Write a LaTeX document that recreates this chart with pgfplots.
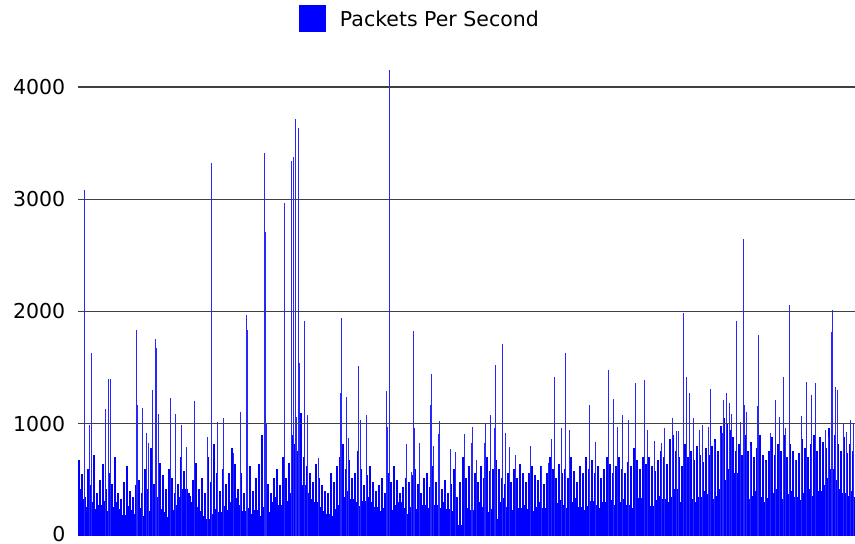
\documentclass[border=0pt]{standalone}
\usepackage{fontspec}
\setmainfont{DejaVu Sans}
\usepackage{pgfplots}
\pgfplotsset{compat=1.18}
\usepackage{pgfplotstable}

% dense floor of the series, one value every 4 px
\pgfplotstableread[row sep=\\,header=false]{
420\\ 330\\ 260\\ 300\\ 240\\ 280\\ 310\\ 220\\ 260\\ 300\\
240\\ 190\\ 270\\ 230\\ 200\\ 250\\ 180\\ 220\\ 260\\ 300\\
240\\ 210\\ 170\\ 230\\ 280\\ 350\\ 420\\ 380\\ 300\\ 260\\
220\\ 180\\ 150\\ 200\\ 240\\ 210\\ 270\\ 230\\ 300\\ 340\\
280\\ 220\\ 250\\ 200\\ 230\\ 180\\ 260\\ 210\\ 300\\ 350\\
280\\ 240\\ 310\\ 380\\ 420\\ 500\\ 450\\ 380\\ 330\\ 300\\
260\\ 220\\ 200\\ 180\\ 240\\ 280\\ 350\\ 400\\ 330\\ 300\\
270\\ 310\\ 350\\ 300\\ 260\\ 220\\ 250\\ 200\\ 230\\ 280\\
300\\ 250\\ 200\\ 260\\ 240\\ 300\\ 280\\ 250\\ 230\\ 280\\
250\\ 300\\ 240\\ 220\\ 120\\ 100\\ 200\\ 250\\ 230\\ 270\\
300\\ 260\\ 210\\ 240\\ 150\\ 300\\ 340\\ 260\\ 230\\ 200\\
250\\ 280\\ 240\\ 220\\ 260\\ 300\\ 250\\ 230\\ 270\\ 290\\
320\\ 280\\ 250\\ 300\\ 340\\ 260\\ 230\\ 270\\ 310\\ 280\\
250\\ 300\\ 350\\ 320\\ 280\\ 300\\ 330\\ 280\\ 250\\ 290\\
340\\ 380\\ 300\\ 270\\ 320\\ 360\\ 330\\ 300\\ 350\\ 420\\
300\\ 460\\ 380\\ 330\\ 300\\ 350\\ 400\\ 370\\ 330\\ 360\\
420\\ 500\\ 600\\ 650\\ 560\\ 450\\ 380\\ 330\\ 360\\ 400\\
350\\ 300\\ 340\\ 380\\ 420\\ 360\\ 330\\ 370\\ 400\\ 350\\
320\\ 380\\ 420\\ 360\\ 330\\ 400\\ 450\\ 520\\ 600\\ 500\\
420\\ 380\\ 360\\ 400\\ 350\\
}\floortab

% thinner sticks, one value every 3 px
\pgfplotstableread[row sep=\\,header=false]{
680\\ 550\\ 350\\ 600\\ 450\\ 720\\ 380\\ 500\\ 640\\ 420\\
560\\ 460\\ 700\\ 380\\ 330\\ 480\\ 620\\ 400\\ 350\\ 450\\
500\\ 380\\ 600\\ 420\\ 780\\ 460\\ 350\\ 650\\ 540\\ 420\\
600\\ 520\\ 380\\ 460\\ 700\\ 580\\ 420\\ 360\\ 500\\ 650\\
420\\ 520\\ 380\\ 700\\ 480\\ 820\\ 560\\ 400\\ 600\\ 460\\
560\\ 780\\ 640\\ 420\\ 560\\ 380\\ 480\\ 620\\ 400\\ 520\\
640\\ 900\\ 560\\ 460\\ 380\\ 520\\ 600\\ 450\\ 700\\ 520\\
650\\ 900\\ 820\\ 760\\ 1100\\ 700\\ 620\\ 560\\ 480\\ 640\\
520\\ 450\\ 400\\ 380\\ 560\\ 480\\ 620\\ 700\\ 820\\ 600\\
680\\ 520\\ 560\\ 760\\ 600\\ 450\\ 540\\ 620\\ 480\\ 400\\
450\\ 520\\ 380\\ 560\\ 480\\ 620\\ 500\\ 380\\ 440\\ 520\\
480\\ 540\\ 600\\ 460\\ 380\\ 520\\ 560\\ 440\\ 620\\ 480\\
560\\ 420\\ 500\\ 380\\ 460\\ 600\\ 350\\ 480\\ 700\\ 520\\
620\\ 680\\ 560\\ 480\\ 620\\ 520\\ 700\\ 580\\ 600\\ 680\\
600\\ 520\\ 460\\ 560\\ 480\\ 600\\ 520\\ 640\\ 560\\ 480\\
560\\ 620\\ 540\\ 500\\ 620\\ 460\\ 560\\ 700\\ 600\\ 520\\
640\\ 560\\ 600\\ 520\\ 700\\ 580\\ 480\\ 620\\ 560\\ 700\\
600\\ 680\\ 560\\ 620\\ 520\\ 600\\ 700\\ 640\\ 560\\ 620\\
700\\ 600\\ 560\\ 660\\ 620\\ 780\\ 680\\ 600\\ 700\\ 640\\
700\\ 620\\ 580\\ 680\\ 760\\ 700\\ 640\\ 860\\ 900\\ 760\\
700\\ 620\\ 820\\ 700\\ 760\\ 680\\ 800\\ 720\\ 660\\ 780\\
720\\ 800\\ 860\\ 760\\ 980\\ 1050\\ 1000\\ 940\\ 880\\ 760\\
820\\ 720\\ 900\\ 760\\ 840\\ 700\\ 780\\ 900\\ 720\\ 680\\
760\\ 880\\ 720\\ 820\\ 760\\ 900\\ 700\\ 820\\ 760\\ 680\\
740\\ 860\\ 780\\ 700\\ 820\\ 900\\ 760\\ 880\\ 840\\ 780\\
960\\ 1000\\ 900\\ 820\\ 760\\ 880\\ 740\\ 820\\ 760\\
}\midtab

\begin{document}
\begin{tikzpicture}
\useasboundingbox (-78pt,-8pt) rectangle (777pt,536pt);
\begin{axis}[
  scale only axis,
  width=777pt, height=477pt,
  xmin=78, xmax=855,
  ymin=0, ymax=4250,
  axis line style={draw=none},
  xtick=\empty,
  ytick={1000,2000,3000,4000},
  extra y ticks={0},
  extra y tick style={grid=none, yticklabel style={yshift=1.8pt}},
  ymajorgrids,
  grid style={black!75, line width=1.4pt},
  major tick length=0pt,
  axis on top,
  font=\fontsize{20.5}{24}\selectfont,
  /pgf/number format/assume math mode=true,
  /pgf/number format/set thousands separator={},
  yticklabel style={inner sep=0pt, xshift=-12.5pt},
  legend style={draw=none, fill=none, inner sep=0pt, outer sep=0pt,
    at={(rel axis cs:0.2844,1.0839)}, anchor=west,
    nodes={inner sep=0pt}},
  legend cell align=left,
  legend image code/.code={\fill[blue] (0pt,-11.5pt) rectangle (23pt,11.5pt); \path (37pt,0pt);},
]
\addplot[ycomb, draw=blue, line width=4pt, mark=none]
  table[x expr={80+4*\coordindex}, y index=0] {\floortab};
\addlegendentry{Packets Per Second}

\addplot[ycomb, draw=blue, line width=1.6pt, mark=none, forget plot]
  table[x expr={79+3*\coordindex}, y index=0] {\midtab};

\addplot[ycomb, draw=blue!85, line width=1pt, mark=none, forget plot] coordinates {
(85,3083) (91.7,1628) (90,990) (106,1129) (108.5,1396) (110.5,1396) (136.7,1835) (137.5,1167)
(143,1138) (146.7,915) (148.7,825) (153,1300) (155.5,1752) (157,1672) (159,1084) (170.7,1227)
(176,1084) (181.7,989) (186.7,796) (195,1206) (207.7,885) (211.7,3320) (217.7,1019) (223,1048)
(233,742) (240,1108) (246.7,1969) (247.5,1835) (264,3415) (265,2711) (266,1004) (284,2970)
(284.7,870) (291.7,3341) (293.3,3374) (295.3,3712) (296,1063) (298.7,3632) (299.7,1538)
(304.3,1919) (307.7,1075) (318,692) (340,1277) (341.3,1940) (346,1236) (348.7,870) (358.3,1515)
(360.7,1034) (366.3,1075) (386.3,1295) (387.3,974) (389,4152) (406.7,817) (411.7,573)
(413.7,1826) (414.3,959) (419,826) (430.3,1167) (431.7,1440) (433.3,805) (438.3,909)
(439.3,1028) (450,775) (455,751) (464,909) (472.7,974) (471.7,832) (476,677) (485,1004)
(484,826) (490,1075) (495.7,1524) (494.7,959) (502,1708) (505.7,915) (509,796) (515,722)
(530.7,805) (541.7,624) (548,653) (551.7,864) (554,1420) (561.7,965) (565.3,1628) (569.7,944)
(589,1164) (595.7,835) (608,1479) (613.7,1218) (617.7,974) (622.7,1078) (628.3,1034) (635,1360)
(644,1390) (647.3,944) (654,849) (661.7,826) (664.3,959) (672.7,1054) (676,936) (678.7,936)
(683.3,1990) (686.7,1420) (689,1271) (693.7,1048) (699,944) (702.7,989) (708.3,974) (710.3,1313)
(714,840) (720,915) (722,915) (723.3,1212) (726.7,1277) (729,1182) (731,1085) (736.3,1919)
(740.7,1019) (743,2643) (744,1167) (746.3,1108) (750,802) (757.7,1158) (758.7,1791) (765.3,662)
(770,915) (775.7,1212) (779,1057) (783.3,1420) (785,965) (789,2058) (795.7,677) (801.7,1069)
(806,1369) (811.7,1256) (815,1360) (825,944) (828.3,885) (831.3,1821) (832,2016) (832.7,1360)
(835,1330) (837.7,1300) (843.3,1004) (846.7,930) (850.7,1034) (853.3,1004)
};
\end{axis}
\end{tikzpicture}
\end{document}
